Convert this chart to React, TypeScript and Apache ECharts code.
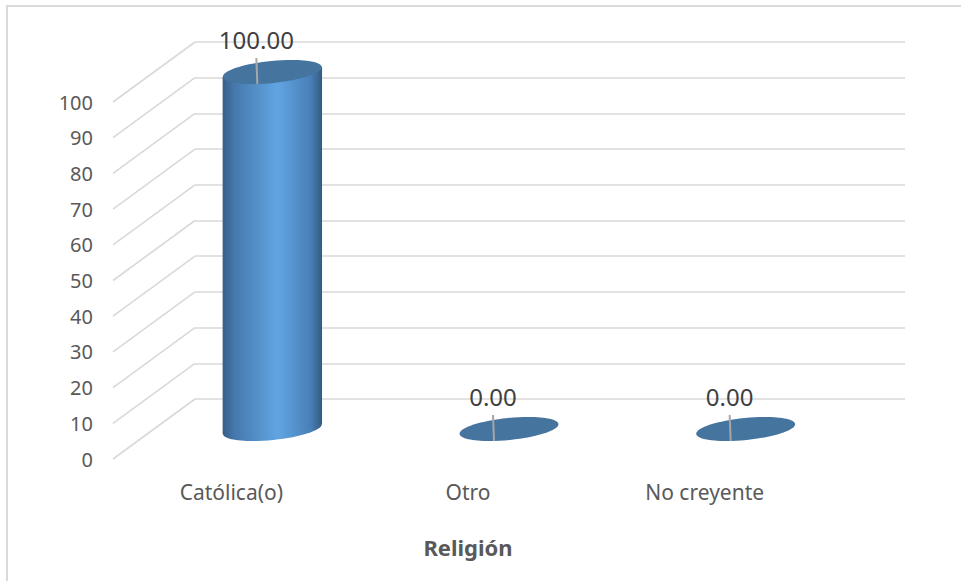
import React, { useEffect, useRef } from "react";
import * as echarts from "echarts";

const categories = ["Católica(o)", "Otro", "No creyente"];
const values = [100.0, 0.0, 0.0];
const yTicks = [0, 10, 20, 30, 40, 50, 60, 70, 80, 90, 100];
const axisTitle = "Religión";

const DX = -82; // depth offset (back wall -> front)
const DY = 60;
const FONT = "'Noto Sans', 'Open Sans', sans-serif";

export default function App() {
  const ref = useRef<HTMLDivElement>(null);

  useEffect(() => {
    if (!ref.current) return;
    const chart = echarts.init(ref.current, null, { renderer: "svg" });

    const bodyGradient = new echarts.graphic.LinearGradient(0, 0, 1, 0, [
      { offset: 0, color: "#365f88" },
      { offset: 0.12, color: "#4679ad" },
      { offset: 0.55, color: "#60a5e2" },
      { offset: 0.88, color: "#4a80b8" },
      { offset: 1, color: "#345b82" },
    ]);

    const option: any = {
      animation: false,
      backgroundColor: "#ffffff",
      grid: [
        { left: 195, top: 42, width: 710, height: 357, containLabel: false },
        { left: 113, top: 102, width: 710, height: 357, containLabel: false },
      ],
      xAxis: [
        {
          type: "category",
          gridIndex: 0,
          data: categories,
          axisLine: { show: false },
          axisTick: { show: false },
          axisLabel: { show: false },
          splitLine: { show: false },
        },
        {
          type: "category",
          gridIndex: 1,
          data: categories,
          axisLine: { show: false },
          axisTick: { show: false },
          axisLabel: {
            margin: 22,
            color: "#595959",
            fontFamily: FONT,
            fontSize: 21,
          },
          name: axisTitle,
          nameLocation: "middle",
          nameGap: 77,
          nameTextStyle: {
            color: "#595959",
            fontFamily: FONT,
            fontSize: 22,
            fontWeight: "bold",
          },
          splitLine: { show: false },
        },
      ],
      yAxis: [
        {
          type: "value",
          gridIndex: 0,
          min: 0,
          max: 100,
          interval: 10,
          axisLine: { show: false },
          axisTick: { show: false },
          axisLabel: { show: false },
          splitLine: { show: true, lineStyle: { color: "#d9d9d9", width: 1.6 } },
        },
        {
          type: "value",
          gridIndex: 1,
          min: 0,
          max: 100,
          interval: 10,
          axisLine: { show: false },
          axisTick: { show: false },
          axisLabel: {
            margin: 20,
            color: "#595959",
            fontFamily: FONT,
            fontSize: 20,
          },
          splitLine: { show: false },
        },
      ],
      graphic: [
        {
          type: "polyline",
          shape: { points: [[7, 581], [7, 6], [961, 6]] },
          style: { stroke: "#d9d9d9", lineWidth: 2, fill: "none" },
          silent: true,
        },
      ],
      series: [
        {
          type: "custom",
          xAxisIndex: 0,
          yAxisIndex: 0,
          z: 1,
          silent: true,
          data: yTicks.map((t) => [0, t]),
          renderItem: (params: any, api: any) => {
            const cs = params.coordSys;
            const y = api.coord([0, api.value(1)])[1];
            return {
              type: "line",
              shape: { x1: cs.x, y1: y, x2: cs.x + DX, y2: y + DY },
              style: { stroke: "#d9d9d9", lineWidth: 1.6 },
            };
          },
        },
        {
          type: "custom",
          xAxisIndex: 0,
          yAxisIndex: 0,
          z: 5,
          silent: true,
          data: values.map((v, i) => [i, v]),
          renderItem: (params: any, api: any) => {
            const idx = api.value(0);
            const v = api.value(1);
            const top = api.coord([idx, v]);
            const base = api.coord([idx, 0]);
            const w = api.size([1, 0])[0] * 0.42;
            const cx = top[0] + DX / 2;
            const cyTop = top[1] + DY / 2;
            const cyBase = base[1] + DY / 2;
            const rx = w / 2;
            const ry = 11;
            const rot = 0.1;
            const sh = rx * Math.sin(rot);
            const children: any[] = [];
            if (cyBase - cyTop > 0.5) {
              children.push({
                type: "ellipse",
                x: cx,
                y: cyBase,
                rotation: rot,
                shape: { cx: 0, cy: 0, rx, ry },
                style: { fill: bodyGradient },
              });
              children.push({
                type: "polygon",
                shape: {
                  points: [
                    [cx - rx, cyTop + sh],
                    [cx + rx, cyTop - sh],
                    [cx + rx, cyBase - sh],
                    [cx - rx, cyBase + sh],
                  ],
                },
                style: { fill: bodyGradient },
              });
            }
            children.push({
              type: "ellipse",
              x: cx,
              y: cyTop,
              rotation: rot,
              shape: { cx: 0, cy: 0, rx, ry },
              style: { fill: "#45749f" },
            });
            const lx = cx - 16;
            children.push({
              type: "line",
              shape: { x1: lx, y1: cyTop - 14, x2: lx + 1, y2: cyTop + 12 },
              style: { stroke: "#a6a6a6", lineWidth: 2 },
            });
            children.push({
              type: "text",
              x: lx,
              y: cyTop - 33,
              style: {
                text: v.toFixed(2),
                fill: "#404040",
                font: `24px ${FONT}`,
                align: "center",
                verticalAlign: "middle",
              },
            });
            return { type: "group", children };
          },
        },
      ],
    };

    chart.setOption(option);
    return () => chart.dispose();
  }, []);

  return (
    <div
      ref={ref}
      style={{ position: "absolute", left: 0, top: 0, width: 961, height: 581 }}
    />
  );
}
